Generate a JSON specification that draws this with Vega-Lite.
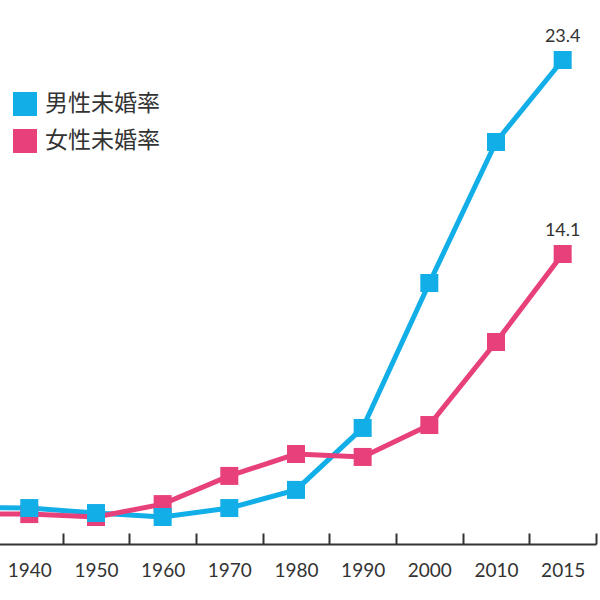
{
  "$schema": "https://vega.github.io/schema/vega-lite/v6.json",
  "width": 600,
  "height": 544,
  "autosize": {"type": "none"},
  "padding": {"left": 0, "top": 0, "right": 0, "bottom": 56},
  "background": "white",
  "config": {"view": {"stroke": null}, "font": "Lato"},
  "data": {
    "values": [
      {"year": "1930", "series": "男性未婚率", "rate": 1.95},
      {"year": "1940", "series": "男性未婚率", "rate": 1.92},
      {"year": "1950", "series": "男性未婚率", "rate": 1.68},
      {"year": "1960", "series": "男性未婚率", "rate": 1.49},
      {"year": "1970", "series": "男性未婚率", "rate": 1.92},
      {"year": "1980", "series": "男性未婚率", "rate": 2.79},
      {"year": "1990", "series": "男性未婚率", "rate": 5.76},
      {"year": "2000", "series": "男性未婚率", "rate": 12.71},
      {"year": "2010", "series": "男性未婚率", "rate": 19.47},
      {"year": "2015", "series": "男性未婚率", "rate": 23.4, "label": "23.4"},
      {"year": "1930", "series": "女性未婚率", "rate": 1.65},
      {"year": "1940", "series": "女性未婚率", "rate": 1.63},
      {"year": "1950", "series": "女性未婚率", "rate": 1.49},
      {"year": "1960", "series": "女性未婚率", "rate": 2.11},
      {"year": "1970", "series": "女性未婚率", "rate": 3.46},
      {"year": "1980", "series": "女性未婚率", "rate": 4.51},
      {"year": "1990", "series": "女性未婚率", "rate": 4.37},
      {"year": "2000", "series": "女性未婚率", "rate": 5.90},
      {"year": "2010", "series": "女性未婚率", "rate": 9.88},
      {"year": "2015", "series": "女性未婚率", "rate": 14.1, "label": "14.1"}
    ]
  },
  "encoding": {
    "x": {
      "field": "year",
      "type": "ordinal",
      "sort": null,
      "scale": {"type": "band", "domain": ["1930","1940","1950","1960","1970","1980","1990","2000","2010","2015"], "range": [-70.7, 596], "paddingInner": 0, "paddingOuter": 0},
      "axis": {
        "title": null,
        "labelAngle": 0,
        "tickBand": "extent",
        "domainColor": "#333333",
        "domainWidth": 2,
        "tickColor": "#333333",
        "tickWidth": 2,
        "tickSize": -11,
        "labelPadding": 28,
        "labelFont": "Lato",
        "labelFontSize": 19,
        "labelColor": "#333333",
        "grid": false
      }
    },
    "y": {
      "field": "rate",
      "type": "quantitative",
      "scale": {"domain": [0, 23.4], "range": [548.1, 60], "nice": false, "zero": false},
      "axis": null
    }
  },
  "layer": [
    {
      "mark": {"type": "line", "strokeWidth": 5, "point": {"shape": "square", "size": 324, "filled": true, "opacity": 1}},
      "encoding": {
        "color": {
          "field": "series",
          "type": "nominal",
          "sort": ["男性未婚率", "女性未婚率"],
          "scale": {"domain": ["男性未婚率", "女性未婚率"], "range": ["#12aee8", "#e8407a"]},
          "legend": {
            "title": null,
            "orient": "none",
            "legendX": 13,
            "legendY": 92,
            "symbolType": "square",
            "symbolSize": 576,
            "symbolStrokeWidth": 0,
            "symbolOpacity": 1,
            "labelFont": "Noto Sans CJK JP",
            "labelFontSize": 23,
            "labelColor": "#333333",
            "labelOffset": 8,
            "rowPadding": 13
          }
        },
        "order": {"field": "series", "sort": "ascending"}
      }
    },
    {
      "transform": [{"filter": "isValid(datum.label)"}],
      "mark": {"type": "text", "baseline": "bottom", "dy": -14, "fontSize": 18, "font": "Lato", "color": "#333333"},
      "encoding": {"text": {"field": "label"}}
    }
  ]
}
